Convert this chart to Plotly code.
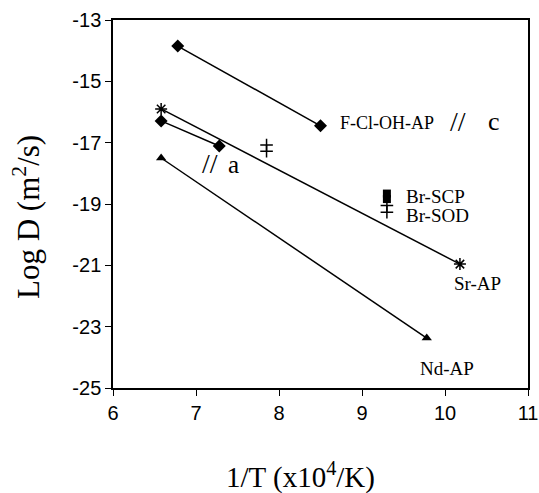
import plotly.graph_objects as go

# Data
fcl_x = [6.78, 8.50]
fcl_y = [-13.85, -16.45]
a_x = [6.58, 7.28]
a_y = [-16.29, -17.11]
sr_x = [6.58, 10.18]
sr_y = [-15.90, -20.96]
nd_x = [6.58, 9.78]
nd_y = [-17.50, -23.37]
brscp_x = [9.30, 9.30]
brscp_y = [-18.66, -18.84]
brsod_x = [9.30, 9.30]
brsod_y = [-19.05, -19.27]
mid_x = [7.85, 7.85]
mid_y = [-17.08, -17.28]

x_ticks = [6, 7, 8, 9, 10, 11]
y_ticks = [-13, -15, -17, -19, -21, -23, -25]
y_ticklabels = ["-13", "-15", "-17", "-19", "-21", "-23", "-25"]

BLACK = "black"
fig = go.Figure()

def line_series(x, y, symbol, size, open_marker=False):
    marker = dict(symbol=symbol, size=size, color=BLACK)
    if open_marker:
        marker["line"] = dict(color=BLACK, width=1.5)
    fig.add_trace(go.Scatter(x=x, y=y, mode="lines+markers",
                             line=dict(color=BLACK, width=1.5),
                             marker=marker, showlegend=False, hoverinfo="x+y"))

line_series(fcl_x, fcl_y, "diamond", 10)
line_series(a_x, a_y, "diamond", 10)
line_series(sr_x, sr_y, "asterisk-open", 10, open_marker=True)
line_series(nd_x, nd_y, "triangle-up", 9)

fig.add_trace(go.Scatter(x=brscp_x, y=brscp_y, mode="markers",
                         marker=dict(symbol="square", size=8, color=BLACK),
                         showlegend=False))
for xs, ys in [(brsod_x, brsod_y), (mid_x, mid_y)]:
    fig.add_trace(go.Scatter(x=xs, y=ys, mode="markers",
                             marker=dict(symbol="cross-thin-open", size=9, color=BLACK,
                                         line=dict(color=BLACK, width=1.5)),
                             showlegend=False))

serif = "Liberation Serif, Times New Roman, serif"
ann = [
    dict(x=8.71, y=-16.36, text="F-Cl-OH-AP", size=18, xanchor="left"),
    dict(x=10.04, y=-16.32, text="//", size=28, xanchor="left"),
    dict(x=10.59, y=-16.32, text="c", size=26, xanchor="center"),
    dict(x=7.05, y=-17.68, text="//", size=28, xanchor="left"),
    dict(x=7.45, y=-17.72, text="a", size=25, xanchor="center"),
    dict(x=9.50, y=-18.74, text="Br-SCP", size=19, xanchor="left"),
    dict(x=9.50, y=-19.36, text="Br-SOD", size=19, xanchor="left"),
    dict(x=10.09, y=-21.58, text="Sr-AP", size=19, xanchor="left"),
    dict(x=9.68, y=-24.35, text="Nd-AP", size=19, xanchor="left"),
]
for a in ann:
    fig.add_annotation(x=a["x"], y=a["y"], text=a["text"], showarrow=False,
                       xanchor=a["xanchor"], yanchor="middle",
                       font=dict(family=serif, size=a["size"], color=BLACK))

# Axis titles
fig.add_annotation(xref="paper", yref="paper", x=0.452, y=-0.239, text="1/T (x10<sup>4</sup>/K)",
                   showarrow=False, xanchor="center", yanchor="middle",
                   font=dict(family=serif, size=29, color=BLACK))
fig.add_annotation(xref="paper", yref="paper", x=-0.207, y=0.465, text="Log D (m<sup>2</sup>/s)",
                   showarrow=False, textangle=-90, xanchor="center", yanchor="middle",
                   font=dict(family=serif, size=31, color=BLACK))

axis_common = dict(showgrid=False, zeroline=False, showline=True, linecolor=BLACK,
                   linewidth=1.5, mirror=True, ticks="outside", ticklen=6,
                   tickwidth=1, tickcolor=BLACK, automargin=False,
                   tickfont=dict(family="Liberation Sans, Arial, sans-serif", size=20, color=BLACK))

fig.update_xaxes(range=[6, 11], tickvals=x_ticks, **axis_common)
fig.update_yaxes(range=[-25, -13], tickvals=y_ticks, ticktext=y_ticklabels, **axis_common)

fig.update_layout(width=539, height=493, margin=dict(l=113, r=11, t=20, b=105),
                  paper_bgcolor="white", plot_bgcolor="white")

fig.write_html("out.html", config={"displayModeBar": False},
               post_script="document.body.style.margin='0';document.body.style.overflow='hidden';")
